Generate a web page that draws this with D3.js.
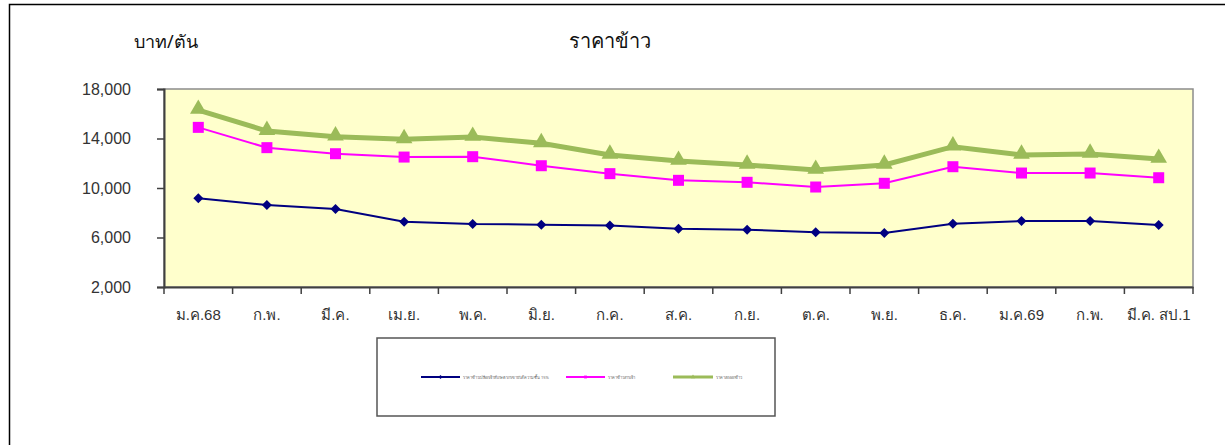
<!DOCTYPE html>
<html><head><meta charset="utf-8">
<script src="https://cdn.jsdelivr.net/npm/d3@7"></script>
<style>body{margin:0;background:#fff;}svg{display:block;font-family:Tahoma,"Noto Sans","DejaVu Sans",sans-serif;}</style>
</head><body><svg id="c" width="1225" height="445"></svg>
<script>
const categories = ["ม.ค.68","ก.พ.","มี.ค.","เม.ย.","พ.ค.","มิ.ย.","ก.ค.","ส.ค.","ก.ย.","ต.ค.","พ.ย.","ธ.ค.","ม.ค.69","ก.พ.","มี.ค. สป.1"];
const paddy = [9170,8630,8300,7280,7090,7040,6960,6710,6630,6420,6360,7120,7330,7330,7010];
const wholesale = [14900,13260,12770,12500,12530,11800,11160,10620,10460,10080,10380,11720,11210,11210,10830];
const exportPrice = [16300,14600,14150,13930,14120,13610,12670,12180,11860,11450,11860,13340,12670,12750,12340];
const yTicks = [2000,6000,10000,14000,18000];
const seriesNames = ["ราคาข้าวเปลือกเจ้าที่เกษตรกรขายได้ความชื้น 15%","ราคาข้าวสารเจ้า","ราคาส่งออกข้าว"];

const svg = d3.select("#c");
const L=164, R=1193, T=89, B=287;
svg.append("rect").attr("x",9.5).attr("y",4.5).attr("width",1230).attr("height",450).attr("fill","none").attr("stroke","#000").attr("stroke-width",1.5);

const x = d3.scaleBand().domain(d3.range(categories.length)).range([L,R]);
const y = d3.scaleLinear().domain([2000,18000]).range([B,T]);

svg.append("rect").attr("x",L).attr("y",T).attr("width",R-L).attr("height",B-T).attr("fill","#FFFFCC").attr("stroke","#8c8c8c").attr("stroke-width",1.5);

const ya = svg.append("g").attr("transform",`translate(${L},0)`).call(d3.axisLeft(y).tickValues(yTicks).tickSize(7).tickPadding(26).tickFormat(d3.format(",")));
ya.select(".domain").attr("stroke","#404040").attr("stroke-width",2);
ya.selectAll(".tick line").attr("stroke","#404040").attr("stroke-width",1.5);
ya.selectAll("text").attr("font-size",16).attr("fill","#333");

const xa = svg.append("g").attr("transform",`translate(0,${B})`).call(d3.axisBottom(x).tickSize(0).tickPadding(22).tickFormat(i=>categories[i]));
xa.select(".domain").attr("stroke","#404040").attr("stroke-width",2);
xa.selectAll("text").attr("font-size",15).attr("fill","#333");
const bounds = d3.range(categories.length+1).map(i=>L+i*x.bandwidth());
svg.append("g").selectAll("line").data(bounds).join("line")
  .attr("x1",d=>d).attr("x2",d=>d).attr("y1",B).attr("y2",B+7).attr("stroke","#404040").attr("stroke-width",1.5);

const cx = i=>x(i)+x.bandwidth()/2;
const line = d3.line().x((d,i)=>cx(i)).y(d=>y(d));

svg.append("path").datum(exportPrice).attr("d",line).attr("fill","none").attr("stroke","#9BBB59").attr("stroke-width",5);
svg.append("g").selectAll("path").data(exportPrice).join("path")
  .attr("d",d3.symbol(d3.symbolTriangle,120)).attr("transform",(d,i)=>`translate(${cx(i)},${y(d)-1})`).attr("fill","#9BBB59");
svg.append("path").datum(wholesale).attr("d",line).attr("fill","none").attr("stroke","#FF00FF").attr("stroke-width",2);
svg.append("g").selectAll("rect").data(wholesale).join("rect")
  .attr("x",(d,i)=>cx(i)-5.5).attr("y",d=>y(d)-5.5).attr("width",11).attr("height",11).attr("fill","#FF00FF");
svg.append("path").datum(paddy).attr("d",line).attr("fill","none").attr("stroke","#000080").attr("stroke-width",2);
svg.append("g").selectAll("path").data(paddy).join("path")
  .attr("d",d3.symbol(d3.symbolSquare,50)).attr("transform",(d,i)=>`translate(${cx(i)},${y(d)}) rotate(45)`).attr("fill","#000080");

svg.append("text").attr("x",610).attr("y",48).attr("text-anchor","middle").attr("font-size",20).attr("fill","#111").text("ราคาข้าว");
svg.append("text").attr("x",134).attr("y",48).attr("font-size",18).attr("fill","#111").text("บาท/ตัน");

svg.append("rect").attr("x",377).attr("y",338).attr("width",398).attr("height",78).attr("fill","#fff").attr("stroke","#555").attr("stroke-width",1.5);
const leg = [
  {x1:421,x2:460,c:"#000080",w:2,s:"d"},
  {x1:566,x2:605,c:"#FF00FF",w:2,s:"s"},
  {x1:673,x2:713,c:"#9BBB59",w:3,s:"t"}];
const lg = svg.append("g").selectAll("g").data(leg).join("g");
lg.append("line").attr("x1",d=>d.x1).attr("x2",d=>d.x2).attr("y1",377).attr("y2",377).attr("stroke",d=>d.c).attr("stroke-width",d=>d.w);
lg.append("path").attr("d",d=>d3.symbol(d.s==="t"?d3.symbolTriangle:d3.symbolSquare,8)())
  .attr("transform",d=>`translate(${(d.x1+d.x2)/2},377)${d.s==="d"?" rotate(45)":""}`).attr("fill",d=>d.c);
lg.append("text").attr("x",d=>d.x2+3).attr("y",378.5).attr("font-size",4).attr("fill","#666").text((d,i)=>seriesNames[i]);
</script></body></html>
